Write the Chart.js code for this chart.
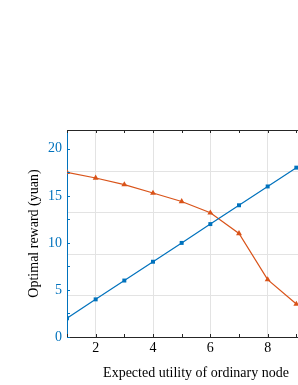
<!DOCTYPE html>
<html>
<head>
<meta charset="utf-8">
<script src="https://cdn.jsdelivr.net/npm/chart.js@4.4.1/dist/chart.umd.min.js"></script>
<style>
  html, body { margin: 0; padding: 0; overflow: hidden; background: #fff; }
  canvas { display: block; }
</style>
</head>
<body>
<canvas id="myChart" width="360" height="385"></canvas>
<script>
'use strict';

/// DATA
let utility = [1, 2, 3, 4, 5, 6, 7, 8, 9];
let rewardBlue = [2, 4, 6, 8, 10, 12, 14, 16, 18];
let rewardOrange = [17.5, 16.9, 16.2, 15.3, 14.4, 13.2, 11.0, 6.1, 3.5];
let xTickLabels = [2, 4, 6, 8, 10];
let yTickLabels = [0, 5, 10, 15, 20];

// colours
let blue = '#0072BD';
let orange = '#D95319';
let gridGrey = '#e3e3e3';
let serif = 'Liberation Serif';

// helper: {x, y} pairs from the arrays
function toPoints(xs, ys) {
  let pts = [];
  for (let i = 0; i < xs.length; i++) {
    pts.push({ x: xs[i], y: ys[i] });
  }
  return pts;
}

// inward tick marks + top box line (matlab style)
let axisTicksPlugin = {
  id: 'axisTicks',
  afterDraw(chart) {
    let ctx = chart.ctx;
    let area = chart.chartArea;
    let xs = chart.scales.x;
    let ys = chart.scales.y;
    ctx.save();
    ctx.lineWidth = 1;

    // top box line
    ctx.strokeStyle = '#262626';
    ctx.beginPath();
    ctx.moveTo(area.left, area.top + 0.5);
    ctx.lineTo(area.right, area.top + 0.5);
    ctx.stroke();

    // x ticks, bottom and top
    for (let v = 1; v <= 10; v++) {
      let px = Math.round(xs.getPixelForValue(v)) + 0.5;
      ctx.beginPath();
      ctx.moveTo(px, area.bottom);
      ctx.lineTo(px, area.bottom - 3);
      ctx.moveTo(px, area.top);
      ctx.lineTo(px, area.top + 3);
      ctx.stroke();
    }

    // left y ticks, major and minor
    ctx.strokeStyle = blue;
    for (let v = 0; v <= 22; v += 2.5) {
      let py = Math.round(ys.getPixelForValue(v)) + 0.5;
      ctx.beginPath();
      ctx.moveTo(area.left, py);
      ctx.lineTo(area.left + 3, py);
      ctx.stroke();
    }
    ctx.restore();
  }
};

let canvasElem = document.getElementById('myChart').getContext('2d');

let myChartObj = {
  type: 'line',
  data: {
    datasets: [
      {
        data: toPoints(utility, rewardBlue),
        borderColor: blue,
        backgroundColor: blue,
        borderWidth: 1.2,
        pointStyle: 'rect',
        pointRadius: 2.8,
        pointBorderWidth: 0,
        tension: 0,
        yAxisID: 'y',
      },
      {
        data: toPoints(utility, rewardOrange),
        borderColor: orange,
        backgroundColor: orange,
        borderWidth: 1.2,
        pointStyle: 'triangle',
        pointRadius: 3.4,
        pointBorderWidth: 0,
        tension: 0,
        yAxisID: 'y',
      },
    ],
  },
  options: {
    responsive: false,
    animation: false,
    layout: { padding: { top: 130, left: 20, right: 0, bottom: 0 } },
    plugins: {
      legend: { display: false },
      tooltip: { enabled: false },
    },
    scales: {
      x: {
        type: 'linear',
        min: 1,
        max: 10,
        afterFit: (s) => { s.height = 48; },
        afterBuildTicks: (s) => {
          s.ticks = [];
          for (let v = 1; v <= 10; v++) s.ticks.push({ value: v });
        },
        border: { color: '#262626', width: 1 },
        grid: {
          drawTicks: false,
          color: (c) => (xTickLabels.includes(c.tick.value) ? gridGrey : 'rgba(0,0,0,0)'),
        },
        ticks: {
          padding: 3,
          color: '#000',
          font: { family: serif, size: 14 },
          autoSkip: false,
          maxRotation: 0,
          callback: (v) => (xTickLabels.includes(v) ? String(v) : ''),
        },
        title: {
          display: true,
          text: 'Expected utility of ordinary node',
          color: '#000',
          font: { family: serif, size: 14 },
          padding: { top: 6, bottom: 3 },
        },
      },
      y: {
        type: 'linear',
        position: 'left',
        min: 0,
        max: 22,
        afterFit: (s) => { s.width = 47; },
        afterBuildTicks: (s) => {
          s.ticks = yTickLabels.map((v) => ({ value: v }));
        },
        border: { color: blue, width: 1 },
        grid: { display: false, drawTicks: false },
        ticks: {
          padding: 5,
          color: blue,
          font: { family: serif, size: 14 },
        },
        title: {
          display: true,
          text: 'Optimal reward (yuan)',
          color: '#000',
          font: { family: serif, size: 14 },
          padding: { top: 6, bottom: 5 },
        },
      },
      y2: {
        type: 'linear',
        position: 'right',
        min: 0,
        max: 5,
        afterFit: (s) => { s.width = 35; },
        border: { display: false },
        grid: { color: gridGrey, drawTicks: false },
        ticks: { display: false, stepSize: 1 },
      },
    },
  },
  plugins: [axisTicksPlugin],
};

new Chart(canvasElem, myChartObj);
</script>
</body>
</html>
